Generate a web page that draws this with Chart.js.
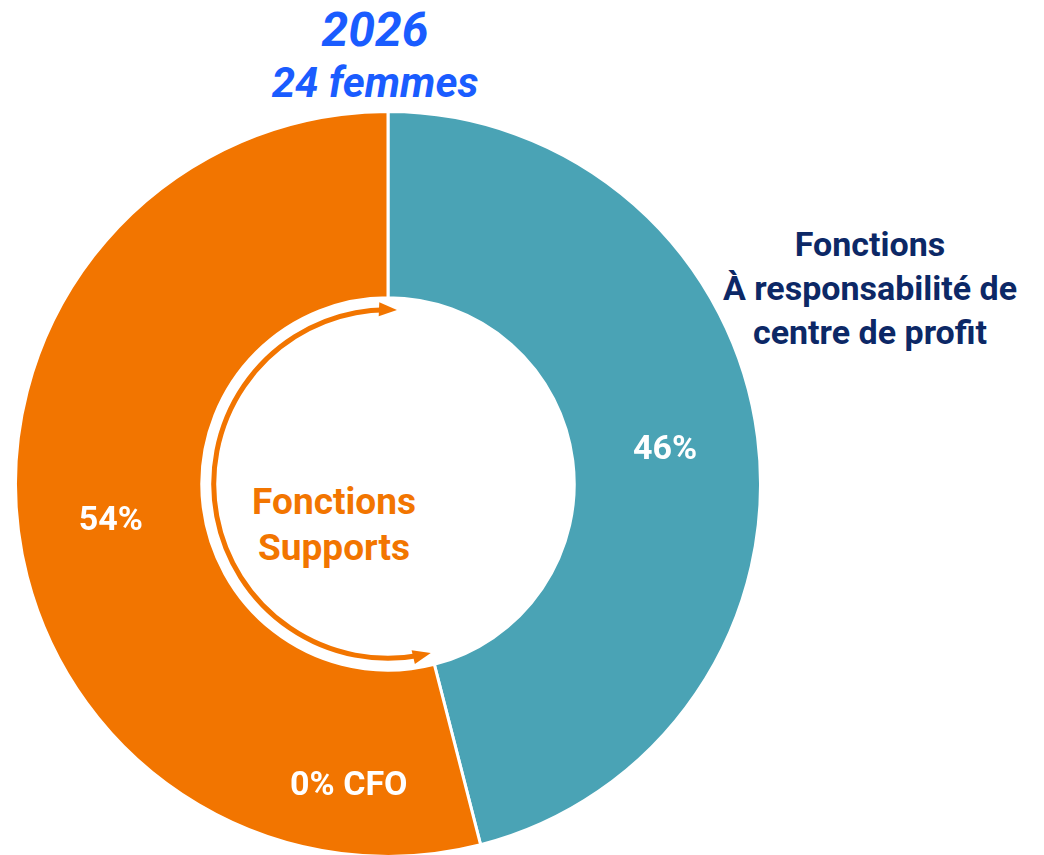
<!DOCTYPE html>
<html>
<head>
<meta charset="utf-8">
<script src="https://cdn.jsdelivr.net/npm/chart.js@4/dist/chart.umd.min.js"></script>
<style>
  html, body { margin: 0; padding: 0; background: #fff; }
  body { width: 1044px; height: 855px; position: relative; overflow: hidden; font-family: Roboto, "Noto Sans", sans-serif; }
  #wrap { position: absolute; left: 14px; top: 110px; width: 748px; height: 748px; }
  .t { position: absolute; text-align: center; font-weight: bold; white-space: nowrap; }
  #year { left: 225px; width: 300px; top: 2px; font-size: 48px; font-style: italic; color: #1a5cff; line-height: 56px; }
  #count { left: 225px; width: 300px; top: 60px; font-size: 42px; font-style: italic; color: #1a5cff; line-height: 46px; }
  #profit { left: 700px; width: 340px; top: 222px; font-size: 34px; color: #0c2866; line-height: 44px; }
  #support { left: 184px; width: 300px; top: 479px; font-size: 37px; color: #f27500; line-height: 46px; }
</style>
</head>
<body>
<div class="t" id="year">2026</div>
<div class="t" id="count">24 femmes</div>
<div class="t" id="profit">Fonctions<br>À responsabilité de<br>centre de profit</div>
<div class="t" id="support">Fonctions<br>Supports</div>
<div id="wrap"><canvas id="pie"></canvas></div>
<script>
// données
const labels = ["Fonctions à responsabilité de centre de profit", "Fonctions Supports", "CFO"];
const values = [46, 54, 0];
const colors = ["#4aa3b5", "#f27500", "#f27500"];
const pctLabels = ["46%", "54%", "0% CFO"];

// étiquettes % + flèche circulaire
const overlay = {
  id: "overlay",
  afterDatasetsDraw(chart) {
    const ctx = chart.ctx;
    const arcs = chart.getDatasetMeta(0).data;

    // flèche double autour du trou, le long du segment orange
    const a = arcs[1];
    const r = a.innerRadius - 12;
    const start = a.startAngle + 0.015;
    const end = a.endAngle + 0.04;
    ctx.save();
    ctx.strokeStyle = "#f27500";
    ctx.fillStyle = "#f27500";
    ctx.lineWidth = 5;
    ctx.beginPath();
    ctx.arc(a.x, a.y, r, start + 0.05, end - 0.05);
    ctx.stroke();
    const head = (ang, dir) => {
      const px = a.x + r * Math.cos(ang), py = a.y + r * Math.sin(ang);
      const tx = -Math.sin(ang) * dir, ty = Math.cos(ang) * dir;
      const nx = Math.cos(ang), ny = Math.sin(ang);
      ctx.beginPath();
      ctx.moveTo(px + tx * 2, py + ty * 2);
      ctx.lineTo(px - tx * 16 + nx * 7, py - ty * 16 + ny * 7);
      ctx.lineTo(px - tx * 16 - nx * 7, py - ty * 16 - ny * 7);
      ctx.closePath();
      ctx.fill();
    };
    head(start, -1);
    head(end, 1);
    ctx.restore();

    ctx.save();
    ctx.fillStyle = "#fff";
    ctx.font = "bold 34px Roboto";
    ctx.textAlign = "center";
    ctx.textBaseline = "middle";
    for (let i = 0; i < 2; i++) {
      const p = arcs[i].tooltipPosition();
      ctx.fillText(pctLabels[i], p.x, p.y + 2);
    }
    // CFO à 0 % : pas d'arc, étiquette en bas de l'anneau, après la frontière
    const ang = a.startAngle + 0.38;
    const rr = (a.innerRadius + a.outerRadius) / 2 + 26;
    ctx.fillText(pctLabels[2], a.x + rr * Math.cos(ang), a.y + rr * Math.sin(ang));
    ctx.restore();
  }
};

new Chart(document.getElementById("pie"), {
  type: "doughnut",
  data: {
    labels,
    datasets: [{
      data: values,
      backgroundColor: colors,
      borderColor: "#fff",
      borderWidth: [3, 3, 0]
    }]
  },
  options: {
    responsive: true,
    maintainAspectRatio: false,
    animation: false,
    cutout: "50%",
    plugins: { legend: { display: false }, tooltip: { enabled: false } }
  },
  plugins: [overlay]
});
</script>
</body>
</html>
